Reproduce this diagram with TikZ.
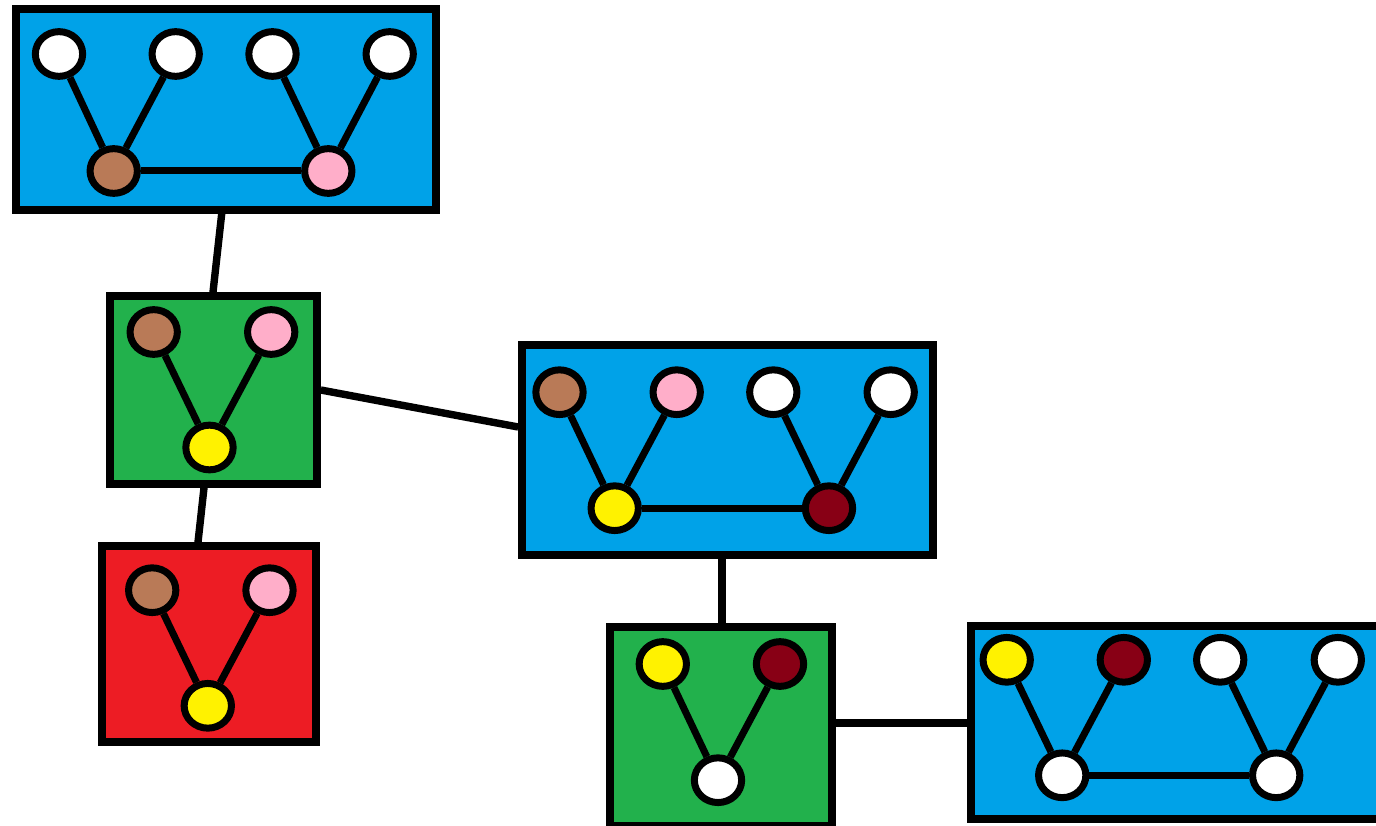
\documentclass[tikz,border=0pt]{standalone}
\usetikzlibrary{shapes.geometric}
\definecolor{pblue}{RGB}{0,162,232}
\definecolor{pgreen}{RGB}{34,177,76}
\definecolor{pred}{RGB}{237,28,36}
\definecolor{pbrown}{RGB}{185,122,87}
\definecolor{ppink}{RGB}{255,174,201}
\definecolor{pyellow}{RGB}{255,242,0}
\definecolor{pdark}{RGB}{136,0,21}
\tikzset{
  box/.style={draw=black, line width=7.6pt, inner sep=0pt, rectangle},
  vtx/.style={ellipse, draw=black, line width=7pt, minimum width=47.3pt, minimum height=44.7pt, inner sep=0pt},
  lnk/.style={draw=black, line width=7pt},
  conn/.style={draw=black, line width=7.4pt}
}
\begin{document}
\begin{tikzpicture}[x=1pt,y=-1pt]
\useasboundingbox (0,0) rectangle (1376,826);
\clip (0,0) rectangle (1376,826);
% boxes
\node[box, fill=pblue, minimum width=420pt, minimum height=201pt] (b1) at (226,109.5) {};
\node[box, fill=pgreen, minimum width=207pt, minimum height=188pt] (b2) at (213.5,390) {};
\node[box, fill=pred, minimum width=214pt, minimum height=196pt] (b6) at (209,644) {};
\node[box, fill=pblue, minimum width=411pt, minimum height=210pt] (b3) at (727.5,450) {};
\node[box, fill=pgreen, minimum width=222pt, minimum height=199pt] (b4) at (721,726.5) {};
\node[box, fill=pblue, minimum width=414pt, minimum height=193pt] (b5) at (1178,722.5) {};
% connectors between boxes
\draw[conn] ([xshift=-4.3pt]b1.south) -- ([xshift=-0.5pt]b2.north);
\draw[conn] ([xshift=-9.5pt]b2.south) -- ([xshift=-11pt]b6.north);
\draw[conn] (b2.east) -- ([yshift=23pt]b3.west);
\draw[conn] ([xshift=-5.5pt]b3.south) -- ([xshift=-5.5pt]b3.south |- b4.north);
\draw[conn] ([yshift=3.5pt]b4.east) -- ([yshift=3.5pt]b4.east -| b5.west);
% box 1
\node[vtx, fill=white] (a1) at (59,54) {};
\node[vtx, fill=white] (a2) at (175.7,54) {};
\node[vtx, fill=white] (a3) at (272.5,54) {};
\node[vtx, fill=white] (a4) at (389.7,54) {};
\node[vtx, fill=pbrown] (a5) at (113.7,171) {};
\node[vtx, fill=ppink] (a6) at (328.3,171) {};
\draw[lnk] (a1) -- (a5);
\draw[lnk] (a2) -- (a5);
\draw[lnk] (a3) -- (a6);
\draw[lnk] (a4) -- (a6);
\draw[lnk] (a5) -- (a6);
% box 2
\node[vtx, fill=pbrown] (c1) at (153.7,332) {};
\node[vtx, fill=ppink] (c2) at (271.2,332) {};
\node[vtx, fill=pyellow] (c3) at (209.5,447.5) {};
\draw[lnk] (c1) -- (c3);
\draw[lnk] (c2) -- (c3);
% red box
\node[vtx, fill=pbrown] (r1) at (152.2,590.2) {};
\node[vtx, fill=ppink] (r2) at (269.5,590.2) {};
\node[vtx, fill=pyellow] (r3) at (207.8,705.8) {};
\draw[lnk] (r1) -- (r3);
\draw[lnk] (r2) -- (r3);
% box 3
\node[vtx, fill=pbrown] (d1) at (559.5,392.2) {};
\node[vtx, fill=ppink] (d2) at (676.7,392.2) {};
\node[vtx, fill=white] (d3) at (773.3,392.2) {};
\node[vtx, fill=white] (d4) at (890.7,392.2) {};
\node[vtx, fill=pyellow] (d5) at (614.7,508.2) {};
\node[vtx, fill=pdark] (d6) at (829,508.2) {};
\draw[lnk] (d1) -- (d5);
\draw[lnk] (d2) -- (d5);
\draw[lnk] (d3) -- (d6);
\draw[lnk] (d4) -- (d6);
\draw[lnk] (d5) -- (d6);
% box 4
\node[vtx, fill=pyellow] (e1) at (662.8,664) {};
\node[vtx, fill=pdark] (e2) at (780,664) {};
\node[vtx, fill=white] (e3) at (718,780.2) {};
\draw[lnk] (e1) -- (e3);
\draw[lnk] (e2) -- (e3);
% box 5
\node[vtx, fill=pyellow] (f1) at (1006.7,659.8) {};
\node[vtx, fill=pdark] (f2) at (1123.8,659.8) {};
\node[vtx, fill=white] (f3) at (1220.2,659.8) {};
\node[vtx, fill=white] (f4) at (1337.8,659.8) {};
\node[vtx, fill=white] (f5) at (1062.2,775.3) {};
\node[vtx, fill=white] (f6) at (1276.2,775.3) {};
\draw[lnk] (f1) -- (f5);
\draw[lnk] (f2) -- (f5);
\draw[lnk] (f3) -- (f6);
\draw[lnk] (f4) -- (f6);
\draw[lnk] (f5) -- (f6);
\end{tikzpicture}
\end{document}
